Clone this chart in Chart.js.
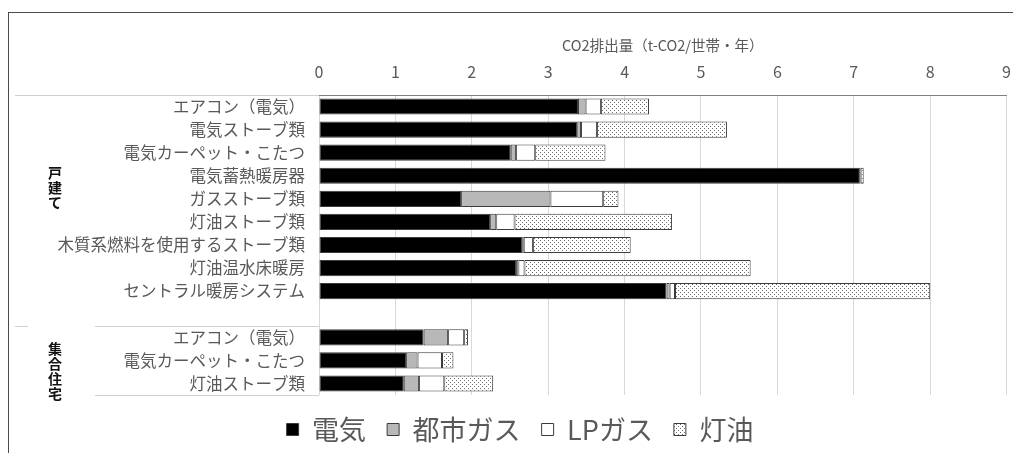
<!DOCTYPE html>
<html lang="ja">
<head>
<meta charset="utf-8">
<title>CO2排出量</title>
<script src="https://cdn.jsdelivr.net/npm/chart.js@4.4.1/dist/chart.umd.min.js"></script>
<style>
  html, body { margin: 0; padding: 0; background: #fff; }
  #wrap { position: relative; width: 1013px; height: 453px; overflow: hidden; }
  #frame { position: absolute; left: 8px; top: 12px; width: 1020px; height: 460px;
           border: 1.5px solid #4a4a4a; pointer-events: none; }
  canvas { position: absolute; left: 0; top: 0; }
</style>
</head>
<body>
<div id="wrap">
  <canvas id="co2Chart" width="1024" height="453"></canvas>
  <div id="frame"></div>
</div>
<script>
const categories = [
  'エアコン（電気）', '電気ストーブ類', '電気カーペット・こたつ', '電気蓄熱暖房器',
  'ガスストーブ類', '灯油ストーブ類', '木質系燃料を使用するストーブ類', '灯油温水床暖房',
  'セントラル暖房システム', '',
  'エアコン（電気）', '電気カーペット・こたつ', '灯油ストーブ類'
];
const groups = [
  { name: '戸建て', first: 0, last: 9 },
  { name: '集合住宅', first: 10, last: 12 }
];
const electricity = [3.39, 3.38, 2.51, 7.08, 1.86, 2.24, 2.66, 2.58, 4.55, null, 1.37, 1.14, 1.11];
const cityGas     = [0.10, 0.05, 0.07, 0.00, 1.17, 0.08, 0.02, 0.03, 0.04, null, 0.32, 0.15, 0.20];
const lpGas       = [0.20, 0.21, 0.25, 0.01, 0.69, 0.24, 0.12, 0.08, 0.07, null, 0.21, 0.32, 0.33];
const kerosene    = [0.63, 1.70, 0.92, 0.04, 0.20, 2.06, 1.28, 2.96, 3.34, null, 0.05, 0.15, 0.64];
const seriesNames = ['電気', '都市ガス', 'LPガス', '灯油'];
const xTicks = [0, 1, 2, 3, 4, 5, 6, 7, 8, 9];

const FONT = '"Noto Sans CJK JP", "Noto Sans", sans-serif';
const ctx = document.getElementById('co2Chart').getContext('2d');

// fine stipple used for the kerosene segments
function dotPattern() {
  const c = document.createElement('canvas');
  c.width = 4; c.height = 4;
  const g = c.getContext('2d');
  g.fillStyle = '#ffffff';
  g.fillRect(0, 0, 4, 4);
  g.fillStyle = '#6e6e6e';
  g.fillRect(0, 0, 1, 1);
  g.fillRect(2, 2, 1, 1);
  return ctx.createPattern(c, 'repeat');
}

// group captions and divider lines on the left of the category labels
const groupLabels = {
  id: 'groupLabels',
  afterDraw(chart) {
    const y = chart.scales.y;
    const rowH = (y.bottom - y.top) / categories.length;
    const g = chart.ctx;
    g.save();
    g.strokeStyle = '#cfcfcf';
    g.lineWidth = 1;
    const line = (x0, x1, yy) => {
      g.beginPath();
      g.moveTo(x0, Math.round(yy) + 0.5);
      g.lineTo(x1, Math.round(yy) + 0.5);
      g.stroke();
    };
    line(15, y.right, y.top);
    line(95, y.right, y.top + rowH * groups[1].first);
    line(15, 28, y.top + rowH * groups[1].first);
    line(95, y.right, y.bottom);

    g.fillStyle = '#111';
    g.font = 'bold 14px ' + FONT;
    g.textAlign = 'center';
    g.textBaseline = 'middle';
    const centers = [y.top + rowH * 4.0, y.top + rowH * 11.95];
    groups.forEach((grp, i) => {
      const chars = Array.from(grp.name);
      const pitch = 15;
      const start = centers[i] - pitch * (chars.length - 1) / 2;
      chars.forEach((ch, k) => g.fillText(ch, 55, start + k * pitch));
    });
    g.restore();
  }
};

const barStyle = {
  borderColor: '#3c3c3c',
  borderWidth: 1,
  borderSkipped: false,
  barPercentage: 0.7,
  categoryPercentage: 1.0
};

new Chart(ctx, {
  type: 'bar',
  data: {
    labels: categories,
    datasets: [
      { label: seriesNames[0], data: electricity, backgroundColor: '#000000', ...barStyle },
      { label: seriesNames[1], data: cityGas, backgroundColor: '#b8b8b8', ...barStyle },
      { label: seriesNames[2], data: lpGas, backgroundColor: '#ffffff', ...barStyle },
      { label: seriesNames[3], data: kerosene, backgroundColor: dotPattern(), ...barStyle }
    ]
  },
  options: {
    indexAxis: 'y',
    responsive: false,
    animation: false,
    layout: { padding: { top: 30, right: 7, bottom: 0, left: 23 } },
    scales: {
      x: {
        position: 'top',
        stacked: true,
        min: 0,
        max: 9,
        afterBuildTicks(scale) { scale.ticks = xTicks.map(v => ({ value: v })); },
        afterFit(scale) { scale.height = 65; },
        ticks: { color: '#595959', font: { family: FONT, size: 16 }, padding: 13 },
        grid: { color: '#d9d9d9', drawTicks: false },
        border: { color: '#7f7f7f', width: 1 },
        title: {
          display: true,
          text: 'CO2排出量（t-CO2/世帯・年）',
          color: '#595959',
          font: { family: FONT, size: 14.5 },
          padding: { top: 7, bottom: 0 }
        }
      },
      y: {
        stacked: true,
        afterFit(scale) { scale.width = 296; },
        ticks: { color: '#595959', font: { family: FONT, size: 16.5 }, padding: 14, autoSkip: false },
        grid: { display: false, drawTicks: false },
        border: { display: false }
      }
    },
    plugins: {
      tooltip: { enabled: false },
      legend: {
        position: 'bottom',
        labels: {
          color: '#595959',
          font: { family: FONT, size: 27 },
          boxWidth: 12,
          boxHeight: 12,
          padding: 21
        }
      }
    }
  },
  plugins: [groupLabels]
});
</script>
</body>
</html>
